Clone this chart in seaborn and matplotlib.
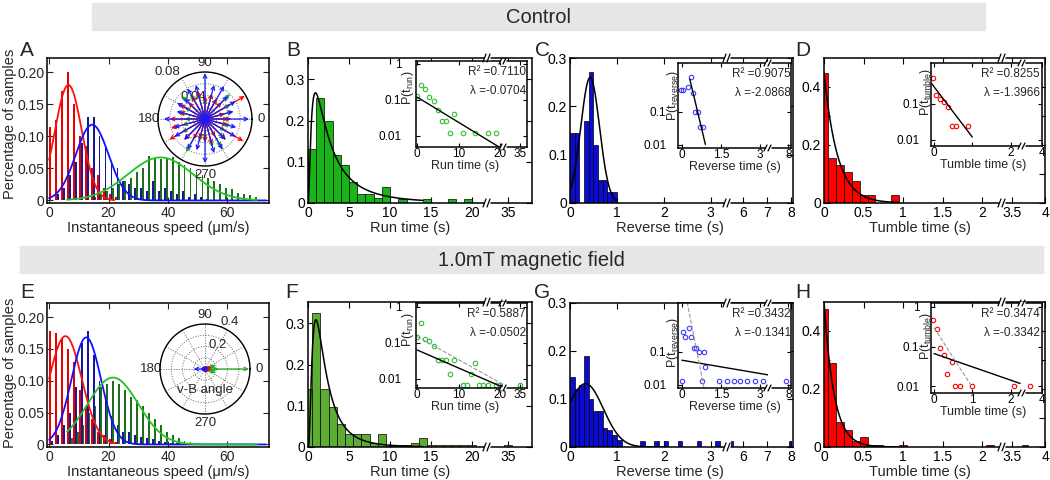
import numpy as np
import pandas as pd
import matplotlib
matplotlib.use("Agg")
import matplotlib.pyplot as plt
from matplotlib.patches import Rectangle
from matplotlib.lines import Line2D
from matplotlib.ticker import NullLocator
import seaborn as sns

sns.set_style("ticks")
plt.rcParams['font.family'] = ['Liberation Sans', 'DejaVu Sans']
plt.rcParams['mathtext.fontset'] = 'custom'
plt.rcParams['mathtext.rm'] = 'Liberation Sans'
plt.rcParams['axes.linewidth'] = 1.1
plt.rcParams['axes.edgecolor'] = 'black'

# ---------------- data ----------------
# speed histograms (A, E): 2 um/s bins
speed_bins = list(range(1, 72, 2))
A_red = [0.115, 0.125, 0.17, 0.2, 0.15, 0.1, 0.085, 0.05, 0.04, 0.02, 0.01, 0.005] + [0] * 24
A_blue = [0, 0.01, 0.02, 0.04, 0.06, 0.09, 0.13, 0.13, 0.1, 0.085, 0.06, 0.05, 0.03, 0.025,
          0.02, 0.02, 0.015, 0.03, 0.015, 0.02, 0.015, 0.01, 0.015, 0.005, 0.01, 0.005, 0.003] + [0] * 9
A_green = [0] * 7 + [0.005, 0.01, 0.015, 0.02, 0.025, 0.03, 0.035, 0.045, 0.05, 0.07, 0.065, 0.065,
                     0.065, 0.068, 0.06, 0.055, 0.05, 0.045, 0.04, 0.035, 0.03, 0.025, 0.02, 0.018,
                     0.012, 0.01, 0.008, 0.005] + [0]
E_red = [0.178, 0.175, 0.165, 0.15, 0.13, 0.085, 0.06, 0.04, 0.02, 0.015, 0.008, 0.004] + [0] * 24
E_blue = [0.005, 0.015, 0.03, 0.05, 0.09, 0.16, 0.178, 0.14, 0.1, 0.07, 0.045, 0.03, 0.02, 0.02,
          0.015, 0.012, 0.01, 0.008, 0.006, 0.004, 0.003, 0.002] + [0] * 14
E_green = [0] * 3 + [0.01, 0.02, 0.03, 0.05, 0.06, 0.09, 0.095, 0.1, 0.095, 0.085, 0.075, 0.07,
                     0.06, 0.05, 0.04, 0.03, 0.02, 0.015, 0.01, 0.006, 0.004, 0.002] + [0] * 11
# gaussian fits (mean, sd, peak)
A_fits = {'red': (6.5, 4.5, 0.18), 'blue': (14.5, 5.5, 0.118), 'green': (37.5, 11, 0.067)}
E_fits = {'red': (5.5, 5.5, 0.17), 'blue': (12.5, 5.0, 0.168), 'green': (21.5, 8.5, 0.105)}

# polar insets: arrow angle (deg) and length
A_angles = list(range(0, 360, 15))
A_pol_blue = [0.075, 0.05, 0.06, 0.055, 0.065, 0.06, 0.078, 0.06, 0.06, 0.05, 0.055, 0.05,
              0.07, 0.055, 0.06, 0.05, 0.06, 0.055, 0.075, 0.06, 0.06, 0.05, 0.06, 0.055]
A_pol_red = [0.045, 0.035, 0.078, 0.04, 0.04, 0.045, 0.04, 0.05, 0.045, 0.04, 0.05, 0.045,
             0.06, 0.06, 0.07, 0.05, 0.04, 0.035, 0.04, 0.045, 0.035, 0.05, 0.075, 0.04]
A_pol_green = [0.04, 0.05, 0.05, 0.06, 0.04, 0.045, 0.035, 0.045, 0.05, 0.055, 0.04, 0.045,
               0.035, 0.04, 0.045, 0.05, 0.065, 0.04, 0.035, 0.05, 0.055, 0.045, 0.04, 0.045]
E_pol_green_ang = [0, 0, 20, 340, 10, 350]
E_pol_green = [0.39, 0.12, 0.1, 0.1, 0.07, 0.07]
E_pol_blue_ang = [180, 170, 190, 90, 270, 30, 150, 210, 330]
E_pol_blue = [0.1, 0.04, 0.04, 0.03, 0.03, 0.03, 0.03, 0.03, 0.03]
E_pol_red_ang = [20, 340, 60, 300, 160, 200, 0]
E_pol_red = [0.06, 0.05, 0.03, 0.04, 0.02, 0.03, 0.05]

# run time (B, F)
B_centers = [0.5 + k for k in range(20)]
B_vals = [0.13, 0.255, 0.198, 0.117, 0.092, 0.051, 0.023, 0.023, 0.011, 0.039,
          0, 0.01, 0, 0, 0.01, 0, 0, 0.01, 0, 0.01]
F_centers = list(range(21)) + [35]
F_vals = [0.14, 0.325, 0.14, 0.097, 0.055, 0.031, 0.031, 0.031, 0.01, 0.031, 0.003,
          0.004, 0.004, 0.01, 0.023, 0.004, 0.004, 0.004, 0.004, 0.004, 0.004, 0.004]
B_fit = (0.9, 1.0, 1.0)      # lognormal mu, sd, scale
F_fit = (0.6, 0.8, 0.82)
B_in_x = [0, 1, 2, 3, 4, 5, 6, 7, 8, 9, 11, 14, 17, 19]
B_in_y = [0.13, 0.25, 0.2, 0.117, 0.09, 0.052, 0.026, 0.026, 0.012, 0.039, 0.012, 0.012, 0.012, 0.012]
F_in_x = [0, 1, 2, 3, 4, 5, 6, 7, 8, 9, 11, 12, 13, 14, 15, 16, 17, 19, 20, 35]
F_in_y = [0.15, 0.35, 0.13, 0.11, 0.08, 0.034, 0.034, 0.034, 0.014, 0.034, 0.007, 0.007,
          0.014, 0.028, 0.007, 0.007, 0.007, 0.007, 0.007, 0.007]

# reverse time (C, G)
C_centers = [0.05, 0.15, 0.25, 0.35, 0.45, 0.55, 0.65, 0.75, 0.85, 0.95]
C_vals = [0.145, 0.145, 0, 0.17, 0.27, 0.12, 0.048, 0.048, 0.023, 0.023]
G_centers = [0.05, 0.15, 0.25, 0.35, 0.45, 0.55, 0.65, 0.75, 0.85, 0.95, 1.05,
             1.55, 1.85, 2.05, 2.35, 2.75, 3.15, 5.55, 7.95]
G_vals = [0.145, 0.12, 0.13, 0.19, 0.1, 0.075, 0.075, 0.04, 0.035, 0.025, 0.014,
          0.012, 0.012, 0.012, 0.012, 0.012, 0.012, 0.012, 0.012]
C_fit = (0.43, 0.2, 0.26)    # gaussian mean, sd, peak
G_fit = (0.33, 0.38, 0.132)
C_in_x = [-0.05, 0.06, 0.23, 0.33, 0.42, 0.51, 0.61, 0.7, 0.8]
C_in_y = [0.45, 0.45, 0.56, 1.12, 0.37, 0.1, 0.1, 0.034, 0.034]
G_in_x = [0.03, 0.1, 0.26, 0.34, 0.45, 0.54, 0.66, 0.83, 0.89,
          0, 0.77, 1.43, 1.72, 1.98, 2.24, 2.5, 2.81, 3.1, 7.9]
G_in_y = [0.4, 0.28, 0.54, 0.28, 0.13, 0.13, 0.1, 0.1, 0.035,
          0.0135, 0.0135, 0.0135, 0.0135, 0.0135, 0.0135, 0.0135, 0.0135, 0.0135, 0.0135]

# tumble time (D, H)
D_centers = [0, 0.1, 0.2, 0.3, 0.4, 0.5, 0.6, 0.7, 0.8, 0.9]
D_vals = [0.45, 0.155, 0.132, 0.106, 0.077, 0.026, 0.026, 0, 0, 0.026]
H_centers = [0, 0.1, 0.2, 0.3, 0.4, 0.5, 0.6, 0.7, 1.0, 2.1, 3.7]
H_vals = [0.477, 0.288, 0.086, 0.057, 0.021, 0.033, 0.007, 0.007, 0.007, 0.007, 0.007]
D_fit = (0.45, 0.17)          # exponential amplitude, tau
H_fit = (0.5, 0.127)
D_in_x = [-0.03, 0.05, 0.16, 0.25, 0.36, 0.46, 0.57, 0.9]
D_in_y = [0.54, 0.18, 0.14, 0.116, 0.08, 0.025, 0.025, 0.025]
H_in_x = [-0.03, 0.07, 0.16, 0.26, 0.35, 0.46, 0.56, 0.67, 1.0, 2.1, 3.7]
H_in_y = [0.48, 0.28, 0.09, 0.06, 0.021, 0.04, 0.01, 0.01, 0.01, 0.01, 0.01]

# inset log-linear fits: (intercept, slope per unit in log10, x from, x to)
B_line = (0.118, -0.0704, 0, 20)
C_line = (9.7, -3.3, 0.3, 0.9)
D_line = (0.3, -1.3966, -0.06, 1.0)
F_line = (0.064, -0.0502, 0, 21)
F_dash = (0.15, -0.064, 0, 21)
G_line = (0.056, -0.1341, 0, 3.3)
G_dash = (20, -4.0, 0.2, 0.85)
H_line = (0.067, -0.3342, 0, 2.25)
H_dash = (0.3, -1.5, 0, 1.0)

stats = {'B': ('0.7110', '-0.0704'), 'C': ('0.9075', '-2.0868'), 'D': ('0.8255', '-1.3966'),
         'F': ('0.5887', '-0.0502'), 'G': ('0.3432', '-0.1341'), 'H': ('0.3474', '-0.3342')}

RED, BLUE, GREEN = '#ff0000', '#0b0bd6', '#18b418'

# ---------------- figure ----------------
W, H = 1050, 480
fig = plt.figure(figsize=(10.5, 4.8), dpi=100)


def box(l, t, r, b):
    return [l / W, 1 - b / H, (r - l) / W, (b - t) / H]


def ftext(x, y, s, **kw):
    fig.text(x / W, 1 - y / H, s, **kw)


def gauss(x, p):
    return p[2] * np.exp(-(x - p[0]) ** 2 / (2 * p[1] ** 2))


def lognorm(x, p):
    return p[2] / (x * p[1] * np.sqrt(2 * np.pi)) * np.exp(-(np.log(x) - p[0]) ** 2 / (2 * p[1] ** 2))


def expo(x, p):
    return p[0] * np.exp(-x / p[1])


def fline(xs, ys, **kw):
    fig.add_artist(Line2D([x / W for x in xs], [1 - y / H for y in ys],
                          transform=fig.transFigure, zorder=6, **kw))


def broken(l, t, r, b, xb, small=False):
    # slash marks where the x axis is cut
    h = 3 if small else 4
    for y in (t, b):
        fline([xb - 3, xb + 3], [y, y], color='white', lw=2.5, solid_capstyle='butt')
        for dx in (-2.5, 1.5):
            fline([xb + dx - 1.5, xb + dx + 1.5], [y + h, y - h], color='black', lw=0.9)
    return fig.add_axes(box(l, t, xb, b)), fig.add_axes(box(xb, t, r, b))


def finish(a1, a2, lim1, lim2, ylim, t1, t2, fs, log=False, yt=None, ytl=None, ypad=2, xpad=2):
    for a in (a1, a2):
        if log:
            a.set_yscale('log')
            a.yaxis.set_minor_locator(NullLocator())
        a.set_ylim(*ylim)
        a.set_xlabel('')
        a.set_ylabel('')
        a.tick_params(direction='in', length=3 if fs < 9 else 4, width=0.8, labelsize=fs,
                      top=True, pad=xpad, colors='black')
        a.tick_params(axis='y', pad=ypad)
        if yt is not None:
            a.set_yticks(yt)
        a.xaxis.set_minor_locator(NullLocator())
    if ytl is not None:
        a1.set_yticklabels(ytl)
    a1.set_xlim(*lim1)
    a2.set_xlim(*lim2)
    a1.set_xticks(t1)
    a1.set_xticklabels([f'{v:g}' for v in t1])
    a2.set_xticks(t2)
    a2.set_xticklabels([f'{v:g}' for v in t2])
    a1.spines['right'].set_visible(False)
    a2.spines['left'].set_visible(False)
    a1.tick_params(right=False)
    a2.tick_params(left=False, labelleft=False, right=True)


def draw_hist(axs, centers, vals, bw, brange, color, fit_x, fit_y):
    df = pd.DataFrame({'t': centers, 'w': vals})
    for a in axs:
        sns.histplot(data=df, x='t', weights='w', binwidth=bw, binrange=brange, ax=a,
                     color=color, edgecolor='black', linewidth=0.5, alpha=1)
        sns.lineplot(x=fit_x, y=fit_y, ax=a, color='black', lw=1.1)


def draw_inset(axs, xs, ys, color, line, dash=None):
    for a in axs:
        a.plot(xs, ys, 'o', mfc='none', mec=color, ms=3.2, mew=0.8, ls='none')
        lx = np.linspace(line[2], line[3], 50)
        sns.lineplot(x=lx, y=line[0] * 10 ** (line[1] * lx), ax=a, color='black', lw=1.0)
        if dash is not None:
            dx = np.linspace(dash[2], dash[3], 50)
            a.plot(dx, dash[0] * 10 ** (dash[1] * dx), ls='--', color='0.6', lw=0.8)


def speed_panel(t, b, red, blue, green, fits, ylab_y):
    ax = fig.add_axes(box(47, t, 269, b))
    x = np.array(speed_bins)
    ax.bar(x + 0.6, green, width=0.6, color='#1f6e1f', lw=0)
    ax.bar(x - 0.6, red, width=0.6, color='#e60000', lw=0)
    ax.bar(x, blue, width=0.6, color='#17179a', lw=0)
    xs = np.linspace(0, 73, 400)
    sns.lineplot(x=xs[xs <= 22], y=gauss(xs[xs <= 22], fits['red']), ax=ax, color='#ff1010', lw=1.3)
    sns.lineplot(x=xs, y=gauss(xs, fits['blue']), ax=ax, color='#1010ff', lw=1.3)
    gx = xs[(xs >= 6) & (xs <= 70)]
    sns.lineplot(x=gx, y=gauss(gx, fits['green']), ax=ax, color='#22c422', lw=1.3)
    ax.set_xlim(-0.7, 74)
    ax.set_ylim(-0.004, 0.222)
    ax.set_xticks([0, 20, 40, 60])
    ax.set_yticks([0, 0.05, 0.10, 0.15, 0.20])
    ax.set_yticklabels(['0', '0.05', '0.10', '0.15', '0.20'])
    ax.tick_params(direction='in', length=4, width=0.8, labelsize=10, top=True, right=True, pad=2)
    ax.set_xlabel('')
    ax.set_ylabel('')
    ftext(158, b + 25, 'Instantaneous speed (\u03bcm/s)', ha='center', va='center', fontsize=10.5)
    ftext(10, ylab_y, 'Percentage of samples', rotation=90, ha='center', va='center', fontsize=10.5)
    return ax


def polar_inset(l, t, r, b, rmax, rt, rlab, arrows, ms):
    p = fig.add_axes(box(l, t, r, b), projection='polar')
    p.set_facecolor('white')
    p.set_ylim(0, rmax)
    p.set_thetagrids(range(0, 360, 30),
                     labels=['0', '', '', '90', '', '', '180', '', '', '270', '', ''], fontsize=9.5)
    p.set_rgrids(rt, labels=[''] * len(rt))
    p.grid(True, ls=':', color='0.4', lw=0.7)
    p.spines['polar'].set_linewidth(1.0)
    p.tick_params(pad=-4)
    for ang, rr, s in rlab:
        p.text(np.deg2rad(ang), rr, s, ha='center', va='center', fontsize=9.5, clip_on=False)
    for angs, lens, c in arrows:
        for th, rr in zip(angs, lens):
            p.annotate('', xy=(np.deg2rad(th), rr), xytext=(0, 0),
                       arrowprops=dict(arrowstyle='->', color=c, lw=0.9, shrinkA=0, shrinkB=0,
                                       mutation_scale=ms))
    return p


def inset_labels(xc, yx, yc, xy, xl, yl, key, rx, ry1):
    ftext(xc, yx, xl, ha='center', va='center', fontsize=9)
    ftext(xy, yc, yl, ha='center', va='center', rotation=90, fontsize=9)
    r2, lam = stats[key]
    ftext(rx, ry1, 'R\u00b2 =' + r2, ha='right', va='center', fontsize=8.5)
    ftext(rx, ry1 + 19, '\u03bb =' + lam, ha='right', va='center', fontsize=8.5)


# title bands
for (l, t, r, b, s) in [(92, 3, 985, 30, 'Control'), (20, 246, 1043, 273, '1.0mT magnetic field')]:
    fig.add_artist(Rectangle((l / W, 1 - b / H), (r - l) / W, (b - t) / H,
                             transform=fig.transFigure, color='#e6e6e6', zorder=0))
    ftext((l + r) / 2, (t + b) / 2 + 1, s, ha='center', va='center', fontsize=14.5,
          family=['Liberation Sans Narrow', 'Liberation Sans'])

# ---- A / E ----
speed_panel(58, 203, A_red, A_blue, A_green, A_fits, 124)
speed_panel(303, 447, E_red, E_blue, E_green, E_fits, 373)
polar_inset(158, 72, 252, 166, 0.08, [0.02, 0.04, 0.06, 0.08],
            [(129, 0.102, '0.08'), (118, 0.043, '0.04')],
            [(A_angles, A_pol_green, '#1faa1f'), (A_angles, A_pol_red, RED), (A_angles, A_pol_blue, '#1a1aff')], 6.5)
polar_inset(160, 324, 250, 414, 0.4, [0.1, 0.2, 0.3, 0.4],
            [(62, 0.47, '0.4'), (62, 0.24, '0.2')],
            [(E_pol_green_ang, E_pol_green, '#1faa1f'), (E_pol_red_ang, E_pol_red, RED),
             (E_pol_blue_ang, E_pol_blue, '#1a1aff')], 6)
ftext(205, 390, 'v-B angle', ha='center', va='center', fontsize=9.5)

# ---- B / F (run time) ----
for key, (t, b), cen, val, brange, fitp, col, inx, iny, line, dash, it, ib in [
        ('B', (58, 203), B_centers, B_vals, (0, 37), B_fit, GREEN, B_in_x, B_in_y, B_line, None, 61, 147),
        ('F', (302, 447), F_centers, F_vals, (-0.5, 36.5), F_fit, '#5dac34', F_in_x, F_in_y, F_line, F_dash, 303, 388)]:
    a1, a2 = broken(308, t, 532, b, 487)
    fx_ = np.linspace(0.05, 14, 300)
    draw_hist((a1, a2), cen, val, 1.0, brange, col, fx_, lognorm(fx_, fitp))
    finish(a1, a2, (0, 21.8), (32.4, 37.9), (0, 0.352), [0, 5, 10, 15, 20], [35], 10,
           yt=[0, 0.1, 0.2, 0.3], ytl=['0', '0.1', '0.2', '0.3'])
    i1, i2 = broken(416, it, 527, ib, 503, small=True)
    draw_inset((i1, i2), inx, iny, '#2fbf2f', line, dash)
    top = 1.19 if key == 'B' else 1.29
    finish(i1, i2, (-0.25, 20.7), (30.9, 36.7), (0.0048 if key == 'B' else 0.0056, top),
           [0, 10, 20], [35], 8.5, log=True, yt=[0.01, 0.1, 1], ytl=['0.01', '0.1', '1'],
           ypad=10.5, xpad=1)
    ftext(410, b + 25, 'Run time (s)', ha='center', va='center', fontsize=10.5)
    inset_labels(465, ib + 19, 88 if key == 'B' else 330, 408, 'Run time (s)',
                 r'$\mathregular{P(t_{run})}$', key, 526, it + 11)

# ---- C / G (reverse time) ----
for key, (t, b), cen, val, fitp, inx, iny, line, dash, it, ib, fend in [
        ('C', (58, 203), C_centers, C_vals, C_fit, C_in_x, C_in_y, C_line, None, 63, 148, 1.0),
        ('G', (303, 447), G_centers, G_vals, G_fit, G_in_x, G_in_y, G_line, G_dash, 303, 388, 2.0)]:
    a1, a2 = broken(570, t, 793, b, 727)
    fx_ = np.linspace(0, fend, 200)
    draw_hist((a1, a2), cen, val, 0.1, (0, 8.1), BLUE, fx_, gauss(fx_, fitp))
    finish(a1, a2, (0, 3.35), (5.33, 8.08), (0, 0.3), [0, 1, 2, 3], [6, 7, 8], 10,
           yt=[0, 0.1, 0.2, 0.3], ytl=['0', '0.1', '0.2', '0.3'])
    i1, i2 = broken(678, it, 791, ib, 768, small=True)
    draw_inset((i1, i2), inx, iny, '#3a3aff', line, dash)
    finish(i1, i2, (-0.15, 3.3), (7.2, 8.1), (0.0081, 3.0), [0, 1.5, 3], [8], 8.5, log=True,
           yt=[0.01, 0.1], ytl=['0.01', '0.1'], ypad=8.5, xpad=1)
    ftext(670, b + 25, 'Reverse time (s)', ha='center', va='center', fontsize=10.5)
    inset_labels(735, ib + 19, 95 if key == 'C' else 342, 673, 'Reverse time (s)',
                 r'$\mathregular{P(t_{reverse})}$', key, 791, it + 11)

# ---- D / H (tumble time) ----
for key, (t, b), cen, val, fitp, inx, iny, line, dash, it, ib, ytop in [
        ('D', (58, 203), D_centers, D_vals, D_fit, D_in_x, D_in_y, D_line, None, 63, 146, 1.37),
        ('H', (302, 447), H_centers, H_vals, H_fit, H_in_x, H_in_y, H_line, H_dash, 303, 393, 1.26)]:
    a1, a2 = broken(824, t, 1045, b, 1002)
    fx_ = np.linspace(0, 0.95, 200)
    draw_hist((a1, a2), cen, val, 0.1, (-0.05, 4.05), RED, fx_, expo(fx_, fitp))
    finish(a1, a2, (0, 2.25), (3.35, 4.0), (0, 0.5), [0, 0.5, 1, 1.5, 2], [3.5, 4], 10,
           yt=[0, 0.1, 0.2, 0.3, 0.4], ytl=['0', '', '0.2', '', '0.4'])
    i1, i2 = broken(931, it, 1042, ib, 1022, small=True)
    draw_inset((i1, i2), inx, iny, RED, line, dash)
    yt = [0.01, 0.1, 1] if key == 'H' else [0.01, 0.1]
    finish(i1, i2, (-0.08, 2.3), (3.5, 4.0), (0.0068, ytop), [0, 1, 2], [4], 8.5, log=True,
           yt=yt, ytl=[f'{v:g}' for v in yt], ypad=8.5, xpad=1)
    if key == 'D':
        i1.set_xticklabels(['0', '', '2'])
    ftext(920, b + 25, 'Tumble time (s)', ha='center', va='center', fontsize=10.5)
    inset_labels(983, ib + 19, 92 if key == 'D' else 336, 926, 'Tumble time (s)',
                 r'$\mathregular{P(t_{tumble})}$', key, 1040, it + 11)

# panel letters
for s, x, y in [('A', 27, 50), ('B', 293, 50), ('C', 542, 51), ('D', 803, 50),
                ('E', 27, 292), ('F', 292, 292), ('G', 542, 293), ('H', 803, 292)]:
    ftext(x, y, s, ha='center', va='center', fontsize=15)

fig.savefig('out.png', dpi=100)
